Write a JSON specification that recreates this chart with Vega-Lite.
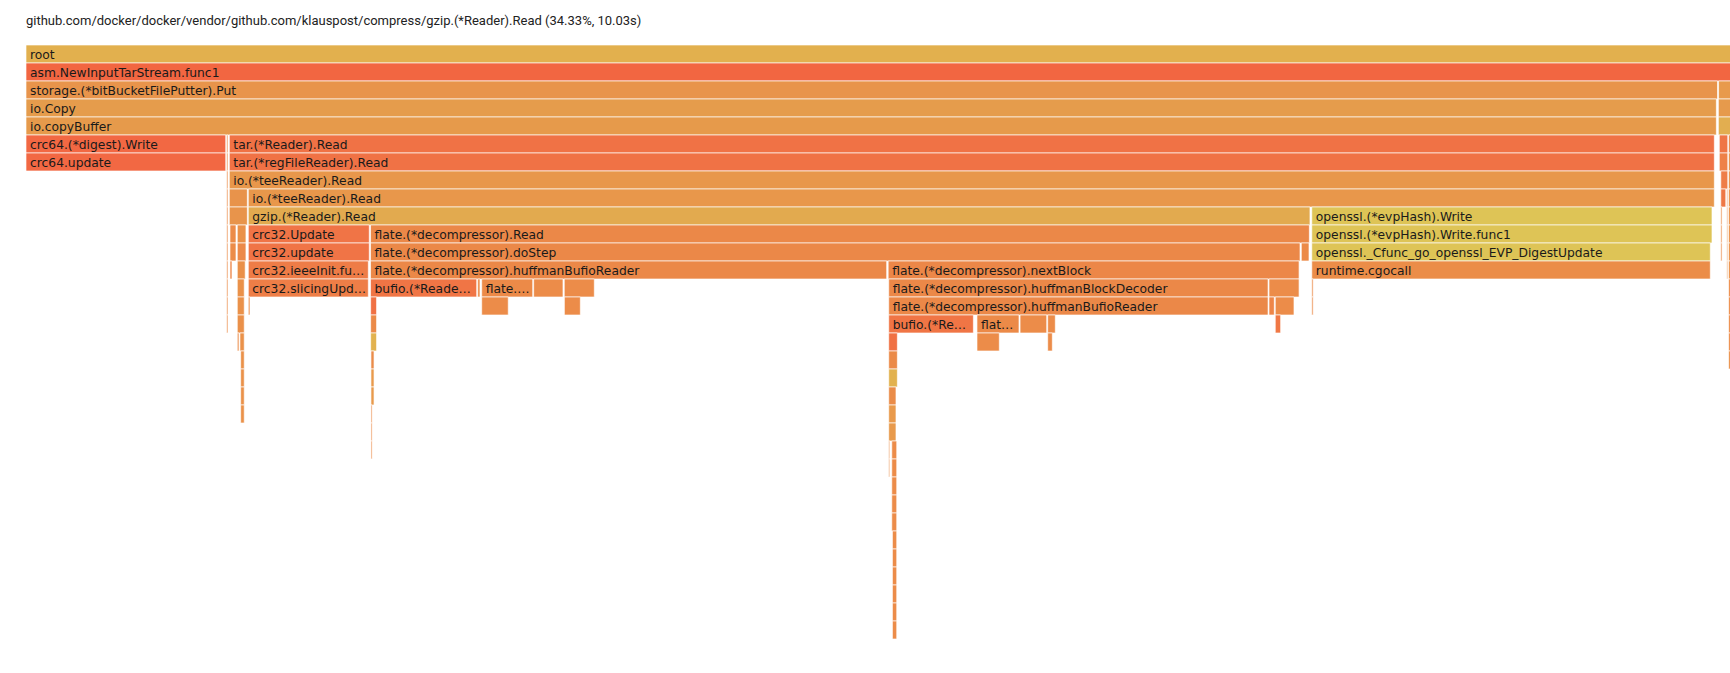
{
  "$schema": "https://vega.github.io/schema/vega-lite/v6.json",
  "width": 1730,
  "height": 630,
  "autosize": {"type": "none"},
  "padding": {"left": 0, "top": 45, "right": 0, "bottom": 0},
  "background": "white",
  "title": {
    "text": "github.com/docker/docker/vendor/github.com/klauspost/compress/gzip.(*Reader).Read (34.33%, 10.03s)",
    "anchor": "start",
    "frame": "group",
    "dx": 26,
    "offset": 17,
    "font": "Roboto",
    "fontSize": 13,
    "fontWeight": "normal",
    "color": "#222222"
  },
  "config": {"view": {"stroke": null}},
  "data": {
    "values": [
      {"d": 0, "s": 0, "e": 29.22, "n": "root"},
      {"d": 1, "s": 0, "e": 29.0, "n": "asm.NewInputTarStream.func1"},
      {"d": 2, "s": 0, "e": 15.98, "n": "storage.(*bitBucketFilePutter).Put"},
      {"d": 2, "s": 15.99, "e": 16.12, "n": "storage.(*jsonPacker).AddEntry"},
      {"d": 3, "s": 0, "e": 15.969, "n": "io.Copy"},
      {"d": 3, "s": 15.988, "e": 16.12, "n": "json.(*Encoder).Encode"},
      {"d": 4, "s": 0, "e": 15.969, "n": "io.copyBuffer"},
      {"d": 4, "s": 15.988, "e": 16.12, "n": "json.(*encodeState).marshal"},
      {"d": 5, "s": 0, "e": 1.887, "n": "crc64.(*digest).Write"},
      {"d": 5, "s": 1.896, "e": 1.908, "n": "runtime.morestack"},
      {"d": 5, "s": 1.921, "e": 15.95, "n": "tar.(*Reader).Read"},
      {"d": 5, "s": 15.997, "e": 16.077, "n": "tar.(*Reader).Next"},
      {"d": 5, "s": 16.085, "e": 16.12, "n": "runtime.mallocgc"},
      {"d": 6, "s": 0, "e": 1.887, "n": "crc64.update"},
      {"d": 6, "s": 1.896, "e": 1.908, "n": "runtime.newstack"},
      {"d": 6, "s": 1.921, "e": 15.95, "n": "tar.(*regFileReader).Read"},
      {"d": 6, "s": 15.997, "e": 16.077, "n": "tar.(*Reader).next"},
      {"d": 6, "s": 16.085, "e": 16.12, "n": "runtime.largeAlloc"},
      {"d": 7, "s": 1.896, "e": 1.908, "n": "runtime.copystack"},
      {"d": 7, "s": 1.921, "e": 15.95, "n": "io.(*teeReader).Read"},
      {"d": 7, "s": 16.011, "e": 16.077, "n": "tar.(*Reader).readHeader"},
      {"d": 7, "s": 16.085, "e": 16.12, "n": "runtime.(*mcache).allocLarge"},
      {"d": 8, "s": 1.896, "e": 1.908, "n": "runtime.adjustframe"},
      {"d": 8, "s": 1.921, "e": 2.091, "n": "io.(*multiWriter).Write"},
      {"d": 8, "s": 2.1, "e": 15.95, "n": "io.(*teeReader).Read"},
      {"d": 8, "s": 16.011, "e": 16.058, "n": "io.ReadFull"},
      {"d": 8, "s": 16.068, "e": 16.077, "n": "runtime.makeslice"},
      {"d": 8, "s": 16.085, "e": 16.12, "n": "runtime.(*mheap).alloc"},
      {"d": 9, "s": 1.896, "e": 1.908, "n": "runtime.gentraceback"},
      {"d": 9, "s": 1.921, "e": 2.091, "n": "bytes.(*Buffer).Write"},
      {"d": 9, "s": 2.1, "e": 12.13, "n": "gzip.(*Reader).Read"},
      {"d": 9, "s": 12.147, "e": 15.928, "n": "openssl.(*evpHash).Write"},
      {"d": 9, "s": 16.011, "e": 16.023, "n": "io.ReadAtLeast"},
      {"d": 9, "s": 16.068, "e": 16.077, "n": "runtime.mallocgc"},
      {"d": 9, "s": 16.085, "e": 16.12, "n": "runtime.systemstack"},
      {"d": 10, "s": 1.896, "e": 1.908, "n": "runtime.pcvalue"},
      {"d": 10, "s": 1.927, "e": 1.984, "n": "bytes.(*Buffer).grow"},
      {"d": 10, "s": 1.996, "e": 2.078, "n": "runtime.growslice"},
      {"d": 10, "s": 2.1, "e": 3.243, "n": "crc32.Update"},
      {"d": 10, "s": 3.255, "e": 12.124, "n": "flate.(*decompressor).Read"},
      {"d": 10, "s": 12.147, "e": 15.928, "n": "openssl.(*evpHash).Write.func1"},
      {"d": 10, "s": 16.011, "e": 16.023, "n": "bufio.(*Reader).Read"},
      {"d": 10, "s": 16.068, "e": 16.077, "n": "runtime.largeAlloc"},
      {"d": 10, "s": 16.085, "e": 16.12, "n": "runtime.(*mheap).alloc.func1"},
      {"d": 11, "s": 1.896, "e": 1.908, "n": "runtime.step"},
      {"d": 11, "s": 1.927, "e": 1.984, "n": "bytes.makeSlice"},
      {"d": 11, "s": 1.996, "e": 2.078, "n": "runtime.mallocgc"},
      {"d": 11, "s": 2.1, "e": 3.243, "n": "crc32.update"},
      {"d": 11, "s": 3.255, "e": 12.036, "n": "flate.(*decompressor).doStep"},
      {"d": 11, "s": 12.048, "e": 12.121, "n": "flate.(*decompressor).moreBits"},
      {"d": 11, "s": 12.147, "e": 15.912, "n": "openssl._Cfunc_go_openssl_EVP_DigestUpdate"},
      {"d": 11, "s": 16.011, "e": 16.023, "n": "os.(*File).Read"},
      {"d": 11, "s": 16.068, "e": 16.077, "n": "runtime.(*mcache).allocLarge"},
      {"d": 11, "s": 16.085, "e": 16.12, "n": "runtime.(*mheap).allocSpan"},
      {"d": 12, "s": 1.896, "e": 1.908, "n": "runtime.readvarint"},
      {"d": 12, "s": 1.927, "e": 1.946, "n": "runtime.makeslice"},
      {"d": 12, "s": 1.996, "e": 2.071, "n": "runtime.largeAlloc"},
      {"d": 12, "s": 2.1, "e": 3.234, "n": "crc32.ieeeInit.func1"},
      {"d": 12, "s": 3.255, "e": 8.131, "n": "flate.(*decompressor).huffmanBufioReader"},
      {"d": 12, "s": 8.145, "e": 12.027, "n": "flate.(*decompressor).nextBlock"},
      {"d": 12, "s": 12.147, "e": 15.912, "n": "runtime.cgocall"},
      {"d": 12, "s": 16.068, "e": 16.077, "n": "runtime.(*mheap).alloc"},
      {"d": 12, "s": 16.085, "e": 16.12, "n": "runtime.(*mheap).grow"},
      {"d": 13, "s": 1.896, "e": 1.908, "n": "runtime.funcspdelta"},
      {"d": 13, "s": 1.996, "e": 2.062, "n": "runtime.(*mcache).allocLarge"},
      {"d": 13, "s": 2.1, "e": 3.234, "n": "crc32.slicingUpdate"},
      {"d": 13, "s": 3.255, "e": 4.258, "n": "bufio.(*Reader).ReadByte"},
      {"d": 13, "s": 4.267, "e": 4.289, "n": "runtime.memmove"},
      {"d": 13, "s": 4.305, "e": 4.787, "n": "flate.(*decompressor).huffSym"},
      {"d": 13, "s": 4.796, "e": 5.073, "n": "flate.(*dictDecoder).writeCopy"},
      {"d": 13, "s": 5.085, "e": 5.369, "n": "flate.(*dictDecoder).tryWriteCopy"},
      {"d": 13, "s": 8.15, "e": 11.734, "n": "flate.(*decompressor).huffmanBlockDecoder"},
      {"d": 13, "s": 11.743, "e": 12.027, "n": "flate.(*huffmanDecoder).init"},
      {"d": 13, "s": 12.147, "e": 12.16, "n": "runtime.asmcgocall"},
      {"d": 13, "s": 16.085, "e": 16.12, "n": "runtime.sysUsed"},
      {"d": 14, "s": 1.896, "e": 1.908, "n": "runtime.findfunc"},
      {"d": 14, "s": 1.996, "e": 2.062, "n": "runtime.(*mheap).alloc"},
      {"d": 14, "s": 2.1, "e": 2.116, "n": "crc32.slicingMakeTable"},
      {"d": 14, "s": 3.256, "e": 3.312, "n": "bufio.(*Reader).fill"},
      {"d": 14, "s": 4.305, "e": 4.556, "n": "flate.noEOF"},
      {"d": 14, "s": 5.086, "e": 5.237, "n": "runtime.memmove"},
      {"d": 14, "s": 8.15, "e": 11.734, "n": "flate.(*decompressor).huffmanBufioReader"},
      {"d": 14, "s": 11.743, "e": 11.793, "n": "runtime.makeslice"},
      {"d": 14, "s": 11.802, "e": 11.979, "n": "flate.(*decompressor).readHuffman"},
      {"d": 14, "s": 12.147, "e": 12.16, "n": "runtime.cgocallbackg"},
      {"d": 14, "s": 16.085, "e": 16.12, "n": "runtime.madvise"},
      {"d": 15, "s": 1.896, "e": 1.908, "n": "runtime.pcdatavalue"},
      {"d": 15, "s": 1.996, "e": 2.062, "n": "runtime.systemstack"},
      {"d": 15, "s": 3.256, "e": 3.312, "n": "os.(*File).Read"},
      {"d": 15, "s": 8.15, "e": 8.95, "n": "bufio.(*Reader).ReadByte"},
      {"d": 15, "s": 8.984, "e": 9.381, "n": "flate.(*decompressor).huffSym"},
      {"d": 15, "s": 9.391, "e": 9.643, "n": "flate.(*dictDecoder).writeCopy"},
      {"d": 15, "s": 9.652, "e": 9.724, "n": "flate.(*dictDecoder).tryWriteCopy"},
      {"d": 15, "s": 11.802, "e": 11.853, "n": "runtime.newobject"},
      {"d": 15, "s": 16.085, "e": 16.12, "n": "runtime.sysUsedOS"},
      {"d": 16, "s": 1.996, "e": 2.012, "n": "runtime.(*mheap).reclaim"},
      {"d": 16, "s": 2.021, "e": 2.062, "n": "runtime.(*mheap).alloc.func1"},
      {"d": 16, "s": 3.256, "e": 3.312, "n": "os.(*File).read"},
      {"d": 16, "s": 8.15, "e": 8.232, "n": "bufio.(*Reader).fill"},
      {"d": 16, "s": 8.984, "e": 9.195, "n": "flate.noEOF"},
      {"d": 16, "s": 9.652, "e": 9.696, "n": "runtime.memmove"},
      {"d": 16, "s": 16.085, "e": 16.12, "n": "runtime.madvise"},
      {"d": 17, "s": 2.028, "e": 2.062, "n": "runtime.(*mheap).allocSpan"},
      {"d": 17, "s": 3.259, "e": 3.288, "n": "poll.(*FD).Read"},
      {"d": 17, "s": 8.15, "e": 8.232, "n": "os.(*File).Read"},
      {"d": 17, "s": 16.085, "e": 16.12, "n": "runtime.sysMap"},
      {"d": 18, "s": 2.028, "e": 2.062, "n": "runtime.(*mheap).grow"},
      {"d": 18, "s": 3.259, "e": 3.288, "n": "syscall.Read"},
      {"d": 18, "s": 8.15, "e": 8.232, "n": "os.(*File).read"},
      {"d": 19, "s": 2.028, "e": 2.062, "n": "runtime.sysMap"},
      {"d": 19, "s": 3.259, "e": 3.288, "n": "syscall.read"},
      {"d": 19, "s": 8.15, "e": 8.219, "n": "poll.(*FD).Read"},
      {"d": 20, "s": 2.028, "e": 2.062, "n": "runtime.sysMapOS"},
      {"d": 20, "s": 3.259, "e": 3.27, "n": "syscall.Syscall"},
      {"d": 20, "s": 8.15, "e": 8.219, "n": "syscall.Read"},
      {"d": 21, "s": 3.259, "e": 3.27, "n": "runtime.entersyscall"},
      {"d": 21, "s": 8.15, "e": 8.219, "n": "syscall.read"},
      {"d": 22, "s": 3.259, "e": 3.27, "n": "runtime.reentersyscall"},
      {"d": 22, "s": 8.15, "e": 8.16, "n": "runtime.exitsyscall"},
      {"d": 22, "s": 8.179, "e": 8.226, "n": "syscall.Syscall"},
      {"d": 23, "s": 8.15, "e": 8.16, "n": "runtime.exitsyscallfast"},
      {"d": 23, "s": 8.179, "e": 8.226, "n": "runtime/internal/syscall.Syscall6"},
      {"d": 24, "s": 8.179, "e": 8.226, "n": "runtime.exitsyscall"},
      {"d": 25, "s": 8.179, "e": 8.226, "n": "runtime.exitsyscallfast"},
      {"d": 26, "s": 8.179, "e": 8.226, "n": "runtime.exitsyscallfast_pidle"},
      {"d": 27, "s": 8.185, "e": 8.226, "n": "runtime.pidleget"},
      {"d": 28, "s": 8.185, "e": 8.226, "n": "runtime.nanotime"},
      {"d": 29, "s": 8.185, "e": 8.226, "n": "runtime.nanotime1"},
      {"d": 30, "s": 8.185, "e": 8.226, "n": "runtime.walltime"},
      {"d": 31, "s": 8.185, "e": 8.226, "n": "runtime.vdsoCall"},
      {"d": 32, "s": 8.185, "e": 8.226, "n": "runtime.vdsoClockGettime"}
    ]
  },
  "layer": [
    {
      "mark": {"type": "rect", "stroke": "#ffffff", "strokeWidth": 1, "strokeOpacity": 0.65, "clip": true},
      "encoding": {
        "x": {"field": "s", "type": "quantitative", "scale": {"domain": [-0.2456, 16.098], "nice": false, "zero": false}, "axis": null},
        "x2": {"field": "e"},
        "y": {"field": "d", "type": "ordinal", "scale": {"domain": [0,1,2,3,4,5,6,7,8,9,10,11,12,13,14,15,16,17,18,19,20,21,22,23,24,25,26,27,28,29,30,31,32,33,34], "paddingInner": 0, "paddingOuter": 0}, "axis": null},
        "color": {
          "field": "n", "type": "nominal", "legend": null,
          "scale": {
            "domain": ["root","asm.NewInputTarStream.func1","storage.(*bitBucketFilePutter).Put","storage.(*jsonPacker).AddEntry","io.Copy","json.(*Encoder).Encode","io.copyBuffer","json.(*encodeState).marshal","crc64.(*digest).Write","crc64.update","runtime.morestack","runtime.newstack","runtime.copystack","runtime.adjustframe","runtime.gentraceback","runtime.pcvalue","runtime.step","runtime.readvarint","runtime.funcspdelta","runtime.findfunc","runtime.pcdatavalue","tar.(*Reader).Read","tar.(*regFileReader).Read","tar.(*Reader).Next","tar.(*Reader).next","tar.(*Reader).readHeader","runtime.mallocgc","runtime.largeAlloc","runtime.(*mcache).allocLarge","runtime.(*mheap).alloc","runtime.makeslice","runtime.systemstack","io.(*teeReader).Read","io.(*multiWriter).Write","io.ReadFull","bytes.(*Buffer).Write","gzip.(*Reader).Read","openssl.(*evpHash).Write","openssl.(*evpHash).Write.func1","openssl._Cfunc_go_openssl_EVP_DigestUpdate","io.ReadAtLeast","bytes.(*Buffer).grow","runtime.growslice","crc32.Update","crc32.update","flate.(*decompressor).Read","bufio.(*Reader).Read","runtime.(*mheap).alloc.func1","bytes.makeSlice","flate.(*decompressor).doStep","flate.(*decompressor).moreBits","os.(*File).Read","runtime.(*mheap).allocSpan","crc32.ieeeInit.func1","flate.(*decompressor).huffmanBufioReader","flate.(*decompressor).nextBlock","runtime.cgocall","runtime.(*mheap).grow","crc32.slicingUpdate","bufio.(*Reader).ReadByte","runtime.memmove","flate.(*decompressor).huffSym","flate.(*dictDecoder).writeCopy","flate.(*dictDecoder).tryWriteCopy","flate.(*decompressor).huffmanBlockDecoder","flate.(*huffmanDecoder).init","runtime.asmcgocall","runtime.sysUsed","crc32.slicingMakeTable","bufio.(*Reader).fill","flate.noEOF","flate.(*decompressor).readHuffman","runtime.cgocallbackg","runtime.madvise","runtime.newobject","runtime.sysUsedOS","runtime.(*mheap).reclaim","os.(*File).read","poll.(*FD).Read","runtime.sysMap","syscall.Read","syscall.read","runtime.sysMapOS","syscall.Syscall","runtime.entersyscall","runtime.reentersyscall","runtime.exitsyscall","runtime/internal/syscall.Syscall6","runtime.exitsyscallfast","runtime.exitsyscallfast_pidle","runtime.pidleget","runtime.nanotime","runtime.nanotime1","runtime.walltime","runtime.vdsoCall","runtime.vdsoClockGettime"],
            "range": ["#E2B04E","#F26641","#E8944B","#E89A4C","#E59C4C","#E69A4C","#E69A4B","#E2AE50","#F26843","#F26843","#EC8C49","#EC8C49","#EC8C49","#EC8C49","#EC8C49","#EC8C49","#EC8C49","#EC8C49","#EC8C49","#EC8C49","#EC8C49","#F07245","#F07245","#EF7646","#EE8148","#EE7D48","#EC8A4A","#EA9049","#EA9149","#EA9149","#EE8648","#EA9049","#E8974B","#E8934B","#EE7846","#E8944B","#E2AA4F","#DEC456","#DEC456","#DEC456","#EC8C49","#EC8C49","#EA9149","#F07446","#F07446","#EB8848","#EC8C49","#EA9149","#EC8C49","#EB8848","#EC8A48","#EB8A48","#EA9149","#EE7C47","#EB8848","#EC8748","#EB8D48","#EA9149","#EE7E47","#F07545","#EC8C49","#EC8A48","#EC8C49","#EC8C49","#EB8848","#EC8C49","#EC8C49","#EC8C49","#EC8C49","#F07144","#EC8C49","#EC8C49","#EC8C49","#EC8C49","#F07845","#EC8C49","#EC8C49","#E2B24F","#EA8C49","#EA9149","#E99A4C","#E89A4C","#EA9149","#EC8C49","#EC8C49","#EC8C49","#EC8C49","#EC8C49","#EC8C49","#EC8C49","#EC8C49","#EC8C49","#EC8C49","#EC8C49","#EC8C49","#EC8C49"]
          }
        }
      }
    },
    {
      "transform": [{"filter": "datum.e - datum.s > 0.33"}],
      "mark": {"type": "text", "align": "left", "baseline": "middle", "dx": 4, "dy": 1, "font": "DejaVu Sans", "fontSize": 12.3, "color": "#1a1a1a", "clip": true, "limit": {"expr": "scale('x', datum.e) - scale('x', datum.s) - 6"}},
      "encoding": {
        "x": {"field": "s", "type": "quantitative", "scale": {"domain": [-0.2456, 16.098], "nice": false, "zero": false}, "axis": null},
        "y": {"field": "d", "type": "ordinal", "axis": null},
        "text": {"field": "n"}
      }
    }
  ]
}
